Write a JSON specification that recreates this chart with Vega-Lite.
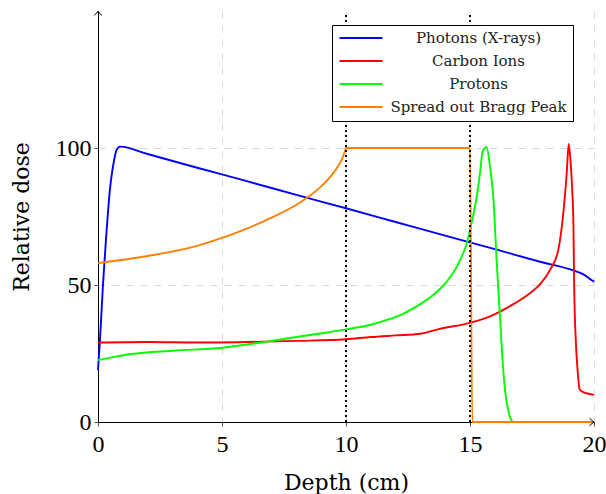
{
  "$schema": "https://vega.github.io/schema/vega-lite/v6.json",
  "width": 496,
  "height": 411,
  "autosize": {"type": "none"},
  "padding": {"left": 98, "top": 11, "right": 12, "bottom": 72},
  "background": "white",
  "config": {"view": {"stroke": null}, "font": "Liberation Serif"},
  "datasets": {
    "curves": [
      {"series": "Photons (X-rays)", "depth": 0, "dose": 19},
      {"series": "Photons (X-rays)", "depth": 0.08, "dose": 30},
      {"series": "Photons (X-rays)", "depth": 0.2, "dose": 50},
      {"series": "Photons (X-rays)", "depth": 0.32, "dose": 66.4},
      {"series": "Photons (X-rays)", "depth": 0.48, "dose": 84.7},
      {"series": "Photons (X-rays)", "depth": 0.65, "dose": 95.6},
      {"series": "Photons (X-rays)", "depth": 0.75, "dose": 99.3},
      {"series": "Photons (X-rays)", "depth": 0.89, "dose": 100.5},
      {"series": "Photons (X-rays)", "depth": 2, "dose": 97.8},
      {"series": "Photons (X-rays)", "depth": 4, "dose": 92.8},
      {"series": "Photons (X-rays)", "depth": 6, "dose": 87.9},
      {"series": "Photons (X-rays)", "depth": 8, "dose": 82.9},
      {"series": "Photons (X-rays)", "depth": 10, "dose": 78},
      {"series": "Photons (X-rays)", "depth": 12, "dose": 73},
      {"series": "Photons (X-rays)", "depth": 14, "dose": 68},
      {"series": "Photons (X-rays)", "depth": 16, "dose": 63.1},
      {"series": "Photons (X-rays)", "depth": 17.82, "dose": 58.5},
      {"series": "Photons (X-rays)", "depth": 19.17, "dose": 55.3},
      {"series": "Photons (X-rays)", "depth": 19.57, "dose": 53.9},
      {"series": "Photons (X-rays)", "depth": 19.9, "dose": 51.8},
      {"series": "Photons (X-rays)", "depth": 20, "dose": 51.2},
      {"series": "Carbon Ions", "depth": 0, "dose": 29},
      {"series": "Carbon Ions", "depth": 2, "dose": 29.2},
      {"series": "Carbon Ions", "depth": 4, "dose": 29},
      {"series": "Carbon Ions", "depth": 6, "dose": 29.2},
      {"series": "Carbon Ions", "depth": 8, "dose": 29.6},
      {"series": "Carbon Ions", "depth": 10, "dose": 30.2},
      {"series": "Carbon Ions", "depth": 11, "dose": 31},
      {"series": "Carbon Ions", "depth": 12, "dose": 31.6},
      {"series": "Carbon Ions", "depth": 13, "dose": 32.2},
      {"series": "Carbon Ions", "depth": 13.7, "dose": 33.8},
      {"series": "Carbon Ions", "depth": 15, "dose": 36.2},
      {"series": "Carbon Ions", "depth": 15.6, "dose": 37.8},
      {"series": "Carbon Ions", "depth": 16.21, "dose": 40.3},
      {"series": "Carbon Ions", "depth": 16.8, "dose": 43.3},
      {"series": "Carbon Ions", "depth": 17.42, "dose": 47},
      {"series": "Carbon Ions", "depth": 17.85, "dose": 50.5},
      {"series": "Carbon Ions", "depth": 18.23, "dose": 55.5},
      {"series": "Carbon Ions", "depth": 18.56, "dose": 62.8},
      {"series": "Carbon Ions", "depth": 18.76, "dose": 76},
      {"series": "Carbon Ions", "depth": 18.9, "dose": 90.8},
      {"series": "Carbon Ions", "depth": 18.98, "dose": 101.5},
      {"series": "Carbon Ions", "depth": 19.06, "dose": 94.4},
      {"series": "Carbon Ions", "depth": 19.12, "dose": 85},
      {"series": "Carbon Ions", "depth": 19.17, "dose": 72},
      {"series": "Carbon Ions", "depth": 19.2, "dose": 50},
      {"series": "Carbon Ions", "depth": 19.27, "dose": 29},
      {"series": "Carbon Ions", "depth": 19.33, "dose": 20},
      {"series": "Carbon Ions", "depth": 19.42, "dose": 12},
      {"series": "Carbon Ions", "depth": 19.5, "dose": 11.2},
      {"series": "Carbon Ions", "depth": 19.7, "dose": 10.5},
      {"series": "Carbon Ions", "depth": 20, "dose": 9.9},
      {"series": "Protons", "depth": 0, "dose": 22.6},
      {"series": "Protons", "depth": 0.5, "dose": 23.5},
      {"series": "Protons", "depth": 1.34, "dose": 24.8},
      {"series": "Protons", "depth": 3, "dose": 26},
      {"series": "Protons", "depth": 5, "dose": 27.1},
      {"series": "Protons", "depth": 6.72, "dose": 29.2},
      {"series": "Protons", "depth": 8, "dose": 31},
      {"series": "Protons", "depth": 10, "dose": 33.8},
      {"series": "Protons", "depth": 11, "dose": 35.5},
      {"series": "Protons", "depth": 11.56, "dose": 37},
      {"series": "Protons", "depth": 12.3, "dose": 39.5},
      {"series": "Protons", "depth": 13.04, "dose": 43.3},
      {"series": "Protons", "depth": 13.6, "dose": 47},
      {"series": "Protons", "depth": 14.11, "dose": 51.8},
      {"series": "Protons", "depth": 14.6, "dose": 59},
      {"series": "Protons", "depth": 14.87, "dose": 65.2},
      {"series": "Protons", "depth": 15.03, "dose": 71.3},
      {"series": "Protons", "depth": 15.27, "dose": 82.2},
      {"series": "Protons", "depth": 15.42, "dose": 92},
      {"series": "Protons", "depth": 15.5, "dose": 98.5},
      {"series": "Protons", "depth": 15.6, "dose": 100},
      {"series": "Protons", "depth": 15.67, "dose": 100.3},
      {"series": "Protons", "depth": 15.81, "dose": 93},
      {"series": "Protons", "depth": 15.94, "dose": 82},
      {"series": "Protons", "depth": 16.08, "dose": 58},
      {"series": "Protons", "depth": 16.21, "dose": 38.4},
      {"series": "Protons", "depth": 16.34, "dose": 19},
      {"series": "Protons", "depth": 16.45, "dose": 9},
      {"series": "Protons", "depth": 16.54, "dose": 4.4},
      {"series": "Protons", "depth": 16.65, "dose": 1},
      {"series": "Protons", "depth": 16.75, "dose": 0},
      {"series": "Protons", "depth": 20, "dose": 0},
      {"series": "Spread out Bragg Peak", "depth": 0, "dose": 58},
      {"series": "Spread out Bragg Peak", "depth": 2, "dose": 60.6},
      {"series": "Spread out Bragg Peak", "depth": 4, "dose": 64.3},
      {"series": "Spread out Bragg Peak", "depth": 5, "dose": 67.2},
      {"series": "Spread out Bragg Peak", "depth": 6, "dose": 70.6},
      {"series": "Spread out Bragg Peak", "depth": 7, "dose": 74.6},
      {"series": "Spread out Bragg Peak", "depth": 8, "dose": 79.3},
      {"series": "Spread out Bragg Peak", "depth": 8.5, "dose": 82.3},
      {"series": "Spread out Bragg Peak", "depth": 9, "dose": 86},
      {"series": "Spread out Bragg Peak", "depth": 9.4, "dose": 89.8},
      {"series": "Spread out Bragg Peak", "depth": 9.7, "dose": 93.6},
      {"series": "Spread out Bragg Peak", "depth": 9.88, "dose": 96.8},
      {"series": "Spread out Bragg Peak", "depth": 9.96, "dose": 99},
      {"series": "Spread out Bragg Peak", "depth": 10, "dose": 100},
      {"series": "Spread out Bragg Peak", "depth": 15, "dose": 100},
      {"series": "Spread out Bragg Peak", "depth": 15.09, "dose": 0},
      {"series": "Spread out Bragg Peak", "depth": 20, "dose": 0}
    ],
    "markers": [{"depth": 10}, {"depth": 15}],
    "arrows": [
      {"depth": 0, "dose": 150, "dir": "up"},
      {"depth": 20, "dose": 0, "dir": "right"}
    ]
  },
  "layer": [
    {
      "data": {"name": "curves"},
      "mark": {"type": "line", "strokeWidth": 1.9, "interpolate": "monotone"},
      "encoding": {
        "x": {
          "field": "depth",
          "type": "quantitative",
          "scale": {"domain": [0, 20], "nice": false, "zero": false},
          "axis": {
            "values": [0, 5, 10, 15, 20],
            "title": "Depth (cm)",
            "grid": true,
            "gridDash": [7, 7],
            "gridColor": "#d9d9d9",
            "gridWidth": 1,
            "domainColor": "black",
            "domainWidth": 1,
            "tickColor": "#555",
            "tickSize": 4,
            "labelFont": "Liberation Serif",
            "labelFontSize": 24,
            "labelColor": "black",
            "labelPadding": 6,
            "labelFlush": false,
            "titleFont": "DejaVu Serif",
            "titleFontSize": 22,
            "titleFontWeight": "normal",
            "titleColor": "black",
            "titlePadding": 16
          }
        },
        "y": {
          "field": "dose",
          "type": "quantitative",
          "scale": {"domain": [0, 150], "nice": false},
          "axis": {
            "values": [0, 50, 100],
            "title": "Relative dose",
            "grid": true,
            "gridDash": [7, 7],
            "gridColor": "#d9d9d9",
            "gridWidth": 1,
            "domainColor": "black",
            "domainWidth": 1,
            "tickColor": "#555",
            "tickSize": 4,
            "labelFont": "Liberation Serif",
            "labelFontSize": 24,
            "labelColor": "black",
            "labelPadding": 3,
            "titleFont": "DejaVu Serif",
            "titleFontSize": 22,
            "titleFontWeight": "normal",
            "titleColor": "black",
            "titlePadding": 22
          }
        },
        "color": {
          "field": "series",
          "type": "nominal",
          "scale": {
            "domain": ["Photons (X-rays)", "Carbon Ions", "Protons", "Spread out Bragg Peak"],
            "range": ["#0000ff", "#ff0000", "#00ff00", "#ff8000"]
          },
          "legend": {
            "orient": "none",
            "legendX": 234,
            "legendY": 14,
            "title": null,
            "symbolType": "M-5,0H5",
            "symbolSize": 74,
            "symbolStrokeWidth": 2,
            "symbolOffset": 16,
            "labelFont": "DejaVu Serif",
            "labelFontSize": 15,
            "labelColor": "#222",
            "labelAlign": "center",
            "labelOffset": 110,
            "labelLimit": 400,
            "rowPadding": 7,
            "padding": 5.5,
            "strokeColor": "black",
            "fillColor": "white"
          }
        }
      }
    },
    {
      "data": {"name": "markers"},
      "mark": {"type": "rule", "color": "black", "strokeWidth": 2, "strokeDash": [2, 3]},
      "encoding": {
        "x": {"field": "depth", "type": "quantitative"},
        "y": {"datum": 0},
        "y2": {"datum": 148.5}
      }
    },
    {
      "data": {"name": "arrows"},
      "mark": {"type": "point", "filled": false, "stroke": "black", "strokeWidth": 1, "size": 100, "opacity": 1},
      "encoding": {
        "x": {"field": "depth", "type": "quantitative"},
        "y": {"field": "dose", "type": "quantitative"},
        "shape": {
          "field": "dir",
          "type": "nominal",
          "scale": {
            "domain": ["up", "right"],
            "range": ["M-0.75,0.9Q-0.2,0.3,0,0Q0.2,0.3,0.75,0.9", "M-0.9,-0.75Q-0.3,-0.2,0,0Q-0.3,0.2,-0.9,0.75"]
          },
          "legend": null
        }
      }
    }
  ]
}
